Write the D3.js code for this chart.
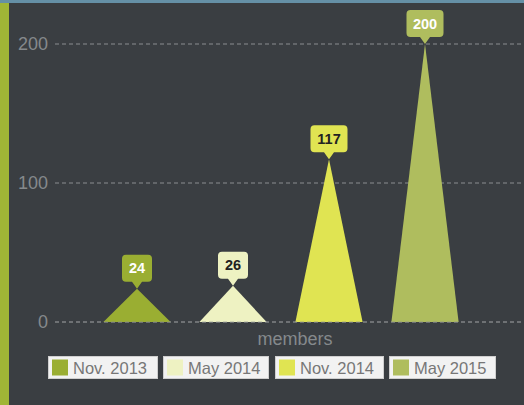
<!DOCTYPE html>
<html><head><meta charset="utf-8">
<script src="https://cdn.jsdelivr.net/npm/d3@7"></script>
<style>
html,body{margin:0;padding:0;background:#3a3e42;}
svg{display:block;}
</style></head>
<body>
<script>
const categories = ["members"];
const seriesNames = ["Nov. 2013", "May 2014", "Nov. 2014", "May 2015"];
const seriesValues = [24, 26, 117, 200];
const seriesColors = ["#9aae32", "#eef2c2", "#e0e452", "#afbd5e"];
const labelTextColors = ["#ffffff", "#222222", "#222222", "#ffffff"];
const yTicks = [0, 100, 200];

const W = 524, H = 405;
const svg = d3.select("body").append("svg").attr("width", W).attr("height", H);
svg.append("rect").attr("width", W).attr("height", H).attr("fill", "#3a3e42");
svg.append("rect").attr("x", 0).attr("y", 0).attr("width", 9).attr("height", H).attr("fill", "#a0b536");
svg.append("rect").attr("x", 0).attr("y", 0).attr("width", W).attr("height", 3).attr("fill", "#6590a6");

const y = d3.scaleLinear().domain([0, 200]).range([322, 44]);
const x0 = d3.scaleBand().domain(categories).range([89, 473]);
const x1 = d3.scaleBand().domain(seriesNames).range([0, x0.bandwidth()]).paddingInner(0.3).paddingOuter(0.15);

// grid
const grid = svg.append("g");
yTicks.forEach(t => {
  grid.append("line").attr("x1", 55).attr("x2", W).attr("y1", y(t)).attr("y2", y(t))
    .attr("stroke", "#8a8d90").attr("stroke-width", 1).attr("stroke-dasharray", "4,3");
  grid.append("text").attr("x", 48).attr("y", y(t) + 6).attr("text-anchor", "end")
    .attr("font-family", "Liberation Sans, Arial, sans-serif").attr("font-size", 18)
    .attr("fill", "#85898c").text(t);
});

// bars (triangles)
const bars = svg.append("g");
seriesNames.forEach((s, i) => {
  const bx = x0(categories[0]) + x1(s);
  const bw = x1.bandwidth();
  const v = seriesValues[i];
  bars.append("path")
    .attr("d", `M${bx},${y(0)} L${bx + bw / 2},${y(v)} L${bx + bw},${y(0)} Z`)
    .attr("fill", seriesColors[i]);
});

// redraw zero line on top faintly
svg.append("line").attr("x1", 55).attr("x2", W).attr("y1", y(0)).attr("y2", y(0))
  .attr("stroke", "#8a8d90").attr("stroke-width", 1).attr("stroke-dasharray", "4,3").attr("opacity", 0.6);

// callouts
const lab = svg.append("g");
seriesNames.forEach((s, i) => {
  const cx = x0(categories[0]) + x1(s) + x1.bandwidth() / 2;
  const v = seriesValues[i];
  const ty = y(v);
  const txt = String(v);
  const bw = txt.length === 3 ? 37 : 30;
  const bh = 27;
  const r = 4;
  const top = ty - 7 - bh;
  const l = cx - bw / 2, rr = cx + bw / 2, b = ty - 7;
  const path = `M${l + r},${top} H${rr - r} Q${rr},${top} ${rr},${top + r} V${b - r} Q${rr},${b} ${rr - r},${b}` +
    ` H${cx + 5} L${cx},${ty} L${cx - 5},${b} H${l + r} Q${l},${b} ${l},${b - r} V${top + r} Q${l},${top} ${l + r},${top} Z`;
  lab.append("path").attr("d", path).attr("fill", seriesColors[i]);
  lab.append("text").attr("x", cx).attr("y", top + bh / 2 + 5).attr("text-anchor", "middle")
    .attr("font-family", "Liberation Sans, Arial, sans-serif").attr("font-size", 14.5)
    .attr("font-weight", "bold").attr("fill", labelTextColors[i]).text(txt);
});

// x axis label
svg.append("text").attr("x", 295).attr("y", 345).attr("text-anchor", "middle")
  .attr("font-family", "Liberation Sans, Arial, sans-serif").attr("font-size", 18)
  .attr("fill", "#85898c").text(categories[0]);

// legend
const legX = [48, 163, 275, 389];
const legW = [109, 105, 108, 106];
const leg = svg.append("g");
seriesNames.forEach((s, i) => {
  const g = leg.append("g").attr("transform", `translate(${legX[i]},356)`);
  g.append("rect").attr("x", 0.5).attr("y", 0.5).attr("width", legW[i]).attr("height", 22)
    .attr("fill", "#f2f2f2").attr("stroke", "#cfcfcf");
  g.append("rect").attr("x", 4).attr("y", 3.5).attr("width", 16).attr("height", 16).attr("fill", seriesColors[i]);
  g.append("text").attr("x", 25).attr("y", 17.5)
    .attr("font-family", "Liberation Sans, Arial, sans-serif").attr("font-size", 16.5)
    .attr("fill", "#777").text(s);
});
</script>
</body></html>
